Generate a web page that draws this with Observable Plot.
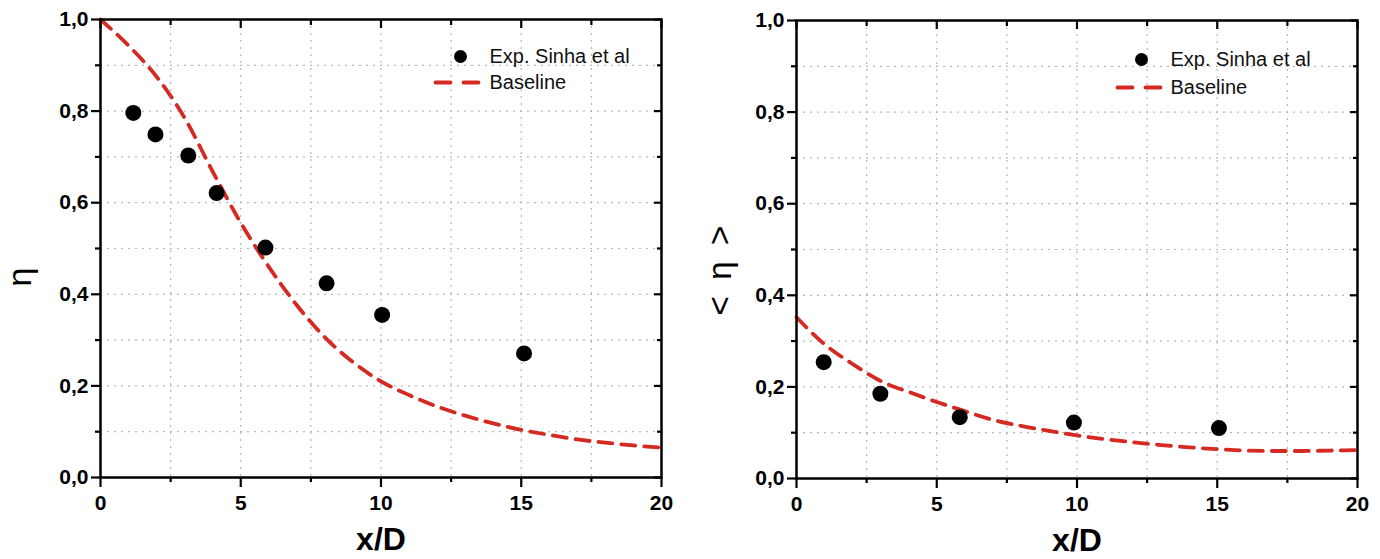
<!DOCTYPE html>
<html>
<head>
<meta charset="utf-8">
<script src="https://cdn.jsdelivr.net/npm/d3@7"></script>
<script src="https://cdn.jsdelivr.net/npm/@observablehq/plot@0.6"></script>
<style>
  body { margin: 0; background: #fff; }
  #wrap { display: flex; width: 1380px; height: 559px; }
  #wrap svg { display: block; }
</style>
</head>
<body>
<div id="wrap"></div>
<script>
// ---------- data ----------
const xMajorTicks = [0, 5, 10, 15, 20];
const xMinorTicks = [2.5, 7.5, 12.5, 17.5];
const yMajorTicks = [0, 0.2, 0.4, 0.6, 0.8, 1.0];
const yMinorTicks = [0.1, 0.3, 0.5, 0.7, 0.9];
const gridXValues = [2.5, 5, 7.5, 10, 12.5, 15, 17.5];
const gridYValues = [0.1, 0.2, 0.3, 0.4, 0.5, 0.6, 0.7, 0.8, 0.9];

const seriesNames = ["Exp. Sinha et al", "Baseline"];

// left panel: local effectiveness
const leftExpX = [1.17, 1.96, 3.13, 4.14, 5.88, 8.06, 10.04, 15.1];
const leftExpY = [0.796, 0.749, 0.703, 0.621, 0.502, 0.424, 0.355, 0.271];
const baseX    = [0, 1, 2, 3, 4, 5, 6, 7, 8, 9, 10, 11, 12, 13, 14, 15, 16, 17, 18, 19, 20];
const leftBaseY = [1.0, 0.943, 0.875, 0.785, 0.668, 0.556, 0.46, 0.376, 0.306, 0.252, 0.21,
                   0.18, 0.155, 0.135, 0.118, 0.104, 0.093, 0.083, 0.076, 0.07, 0.065];

// right panel: laterally averaged effectiveness
const rightExpX = [0.97, 2.99, 5.82, 9.89, 15.06];
const rightExpY = [0.254, 0.185, 0.134, 0.122, 0.11];
const rightBaseY = [0.352, 0.293, 0.25, 0.213, 0.189, 0.167, 0.147, 0.128, 0.115, 0.104, 0.094,
                    0.086, 0.079, 0.073, 0.068, 0.064, 0.061, 0.06, 0.06, 0.061, 0.062];

const xLabel = "x/D";
const leftYLabel = "η";
const rightYLabel = "<\u2002η\u2002>";

// ---------- drawing ----------
const RED = "#d42a22";
const fmtY = d => d.toFixed(1).replace(".", ",");
const lineShape = {
  draw(context, l) { context.moveTo(0, 0); context.lineTo(0, -l); }
};

function panel(opts) {
  const exp = opts.expX.map((x, i) => ({x, y: opts.expY[i]}));
  const base = baseX.map((x, i) => ({x, y: opts.baseY[i]}));
  return Plot.plot({
    width: opts.width,
    height: 559,
    marginLeft: opts.marginLeft,
    marginRight: opts.marginRight,
    marginTop: opts.marginTop,
    marginBottom: 559 - opts.frameBottom,
    style: {fontFamily: "'Liberation Sans', Arial, sans-serif", background: "white", color: "black", overflow: "visible"},
    x: {domain: [0, 20]},
    y: {domain: [0, 1]},
    marks: [
      Plot.gridX(gridXValues, {stroke: "#b8b8b8", strokeOpacity: 1, strokeWidth: 1.2, strokeDasharray: "2,5"}),
      Plot.gridY(gridYValues, {stroke: "#b8b8b8", strokeOpacity: 1, strokeWidth: 1.2, strokeDasharray: "2,5"}),
      Plot.line(base, {x: "x", y: "y", stroke: RED, strokeWidth: 3.8, strokeDasharray: "14,9", curve: "monotone-x"}),
      Plot.dot(exp, {x: "x", y: "y", r: 8, fill: "black", stroke: "none"}),
      // axes
      Plot.axisY({anchor: "left", ticks: yMajorTicks, tickFormat: fmtY, tickSize: 9, tickPadding: 3,
                  fontSize: 21, fontWeight: "bold", strokeWidth: 2.2, label: null}),
      Plot.axisY({anchor: "left", ticks: yMinorTicks, tickSize: 5, fill: "none", strokeWidth: 2.2, label: null}),
      Plot.axisY({anchor: "right", ticks: yMajorTicks, tickSize: 8, dx: -8, fill: "none", strokeWidth: 2.2, label: null}),
      Plot.axisY({anchor: "right", ticks: yMinorTicks, tickSize: 5, dx: -5, fill: "none", strokeWidth: 2.2, label: null}),
      Plot.axisX({anchor: "bottom", ticks: xMajorTicks, tickSize: 10, tickPadding: 8,
                  fontSize: 21, fontWeight: "bold", strokeWidth: 2.2, label: null}),
      Plot.axisX({anchor: "bottom", ticks: xMinorTicks, tickSize: 5, fill: "none", strokeWidth: 2.2, label: null}),
      Plot.axisX({anchor: "top", ticks: xMajorTicks, tickSize: 8, dy: 8, fill: "none", strokeWidth: 2.2, label: null}),
      Plot.axisX({anchor: "top", ticks: xMinorTicks, tickSize: 5, dy: 5, fill: "none", strokeWidth: 2.2, label: null}),
      Plot.frame({stroke: "black", strokeWidth: 2.5}),
      // axis titles
      Plot.text([xLabel], {text: d => d, frameAnchor: "bottom", dy: 62, lineAnchor: "middle",
                           fontSize: 32, fontWeight: "bold"}),
      Plot.text([opts.yLabel], {text: d => d, frameAnchor: "left", dx: opts.yLabelDx, dy: opts.yLabelDy, rotate: -90,
                                lineAnchor: "middle", fontSize: opts.yLabelSize}),
      // legend
      Plot.dot([seriesNames[0]], {frameAnchor: "top-right", dx: opts.legDot, dy: opts.legY1, r: 6.5, fill: "black"}),
      Plot.text([seriesNames[0]], {text: d => d, frameAnchor: "top-right", dx: opts.legText, dy: opts.legY1,
                                   textAnchor: "start", lineAnchor: "middle", fontSize: 20, fill: "#111"}),
      Plot.vector([seriesNames[1]], {frameAnchor: "top-right", dx: opts.legDash, dy: opts.legY2, rotate: 90,
                                     length: 43, anchor: "start", shape: lineShape, stroke: RED,
                                     strokeWidth: 3.8, strokeDasharray: "15,13"}),
      Plot.text([seriesNames[1]], {text: d => d, frameAnchor: "top-right", dx: opts.legText, dy: opts.legY2,
                                   textAnchor: "start", lineAnchor: "middle", fontSize: 20, fill: "#111"})
    ]
  });
}

const wrap = document.getElementById("wrap");
wrap.append(panel({
  width: 690, marginLeft: 100, marginRight: 29, marginTop: 19, frameBottom: 477,
  expX: leftExpX, expY: leftExpY, baseY: leftBaseY,
  yLabel: leftYLabel, yLabelDx: -80, yLabelDy: 38, yLabelSize: 34,
  legDot: -201, legText: -172, legDash: -226, legY1: 37, legY2: 63
}));
wrap.append(panel({
  width: 690, marginLeft: 106, marginRight: 23, marginTop: 20, frameBottom: 478,
  expX: rightExpX, expY: rightExpY, baseY: rightBaseY,
  yLabel: rightYLabel, yLabelDx: -76, yLabelDy: 66, yLabelSize: 33,
  legDot: -216, legText: -187, legDash: -240, legY1: 39, legY2: 67
}));
</script>
</body>
</html>
